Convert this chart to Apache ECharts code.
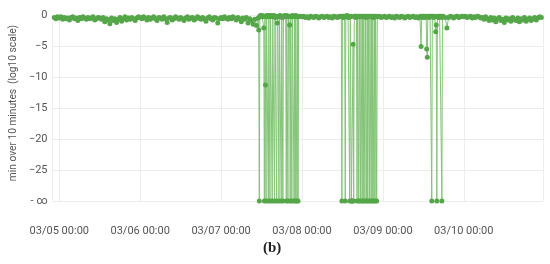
<!DOCTYPE html>
<html>
<head>
<meta charset="utf-8">
<script src="https://cdn.jsdelivr.net/npm/echarts@6/dist/echarts.min.js"></script>
<style>
  html, body { margin: 0; padding: 0; background: #fff; }
  #chart { width: 550px; height: 264px; }
</style>
</head>
<body>
<div id="chart"></div>
<script>
// -inf is drawn on the floor of the axis (-30)
var X = -30;

// quiet stretches, 30 minute samples
var d0304 = [-0.4, -0.6, -0.3];                       // 22:30 - 23:30
var d0305 = [-0.5,-0.3,-0.7,-0.4,-0.6,-0.5,-0.8,-0.4,-0.3,-0.6,-0.5,-0.9,-0.4,-0.6,-0.3,-0.5,-0.7,-0.4,-0.6,-0.5,-0.3,-0.8,-0.6,-0.4,
             -0.5,-0.7,-0.4,-1.1,-0.6,-0.8,-1.4,-0.5,-0.9,-0.6,-1.2,-0.7,-0.4,-1.0,-0.6,-0.3,-0.8,-0.5,-0.7,-0.4,-0.6,-0.9,-0.5,-0.3];
var d0306 = [-0.4,-0.6,-0.3,-0.5,-0.8,-0.4,-0.7,-0.5,-0.3,-0.6,-0.9,-0.4,-0.5,-0.7,-0.3,-0.6,-1.2,-0.5,-0.4,-0.8,-0.6,-0.3,-0.5,-0.7,
             -0.4,-0.6,-0.9,-0.5,-0.3,-0.7,-0.5,-0.4,-0.8,-0.6,-0.3,-0.5,-0.7,-0.4,-0.6,-1.0,-0.5,-0.3,-0.6,-0.8,-0.4,-0.5,-1.3,-0.6];
var d0307am = [-0.4,-0.6,-0.3,-0.5,-0.7,-0.4,-0.6,-0.3,-0.5,-0.8,-0.4,-0.6,-1.1,-0.5,-0.7,-0.4,-1.3,-0.6,-0.9,-1.5,-0.7,-1.7]; // 00:00 - 10:30
var d0307pm = [-0.3, -0.2];                           // 23:00 - 23:30
var d0308am = [-0.3,-0.2,-0.4,-0.3,-0.5,-0.2,-0.3,-0.4,-0.2,-0.3,-0.5,-0.3,-0.2,-0.4,-0.3,-0.2,-0.4,-0.3,-0.5,-0.2,-0.3,-0.4,-0.2]; // 00:00 - 11:00
var d0308pm = [-0.3, -0.2, -0.4];                     // 22:30 - 23:30
var d0309am = [-0.3,-0.2,-0.4,-0.3,-0.2,-0.4,-0.3,-0.5,-0.2,-0.3,-0.4,-0.2,-0.3,-0.5,-0.3,-0.2,-0.4,-0.3,-0.2,-0.4,-0.3,-0.5]; // 00:00 - 10:30
var d0309pm = [-0.3,-0.4,-2.1,-0.4,-0.2,-0.3,-0.5,-0.3,-0.2,-0.4,-0.3,-0.2];  // 18:00 - 23:30
var d0310 = [-0.3,-0.2,-0.4,-0.3,-0.2,-0.5,-0.3,-0.4,-0.2,-0.3,-0.5,-0.4,-0.7,-0.3,-0.6,-0.9,-0.4,-0.8,-0.5,-1.1,-0.6,-0.4,-0.9,-0.7,
             -1.2,-0.5,-0.8,-0.6,-1.0,-0.4,-0.7,-0.9,-0.5,-1.1,-0.6,-0.8,-0.4,-1.0,-0.7,-0.5,-0.9,-0.6,-0.4,-0.8,-0.5,-0.3,-0.4];

// dropout periods, 10 minute samples
var c0307 = [-0.5,-2.4,X,-0.2,-0.1,-0.3,-0.2,-0.1,-0.3,-0.2,-2.1,X,-0.2,-11.3,X,-0.1,-0.3,-0.2,X,-0.1,-0.2,X,-0.3,-0.1,
             -0.2,X,-0.2,-0.3,-0.1,X,-0.2,-0.4,-0.2,X,-1.3,-0.2,-0.3,X,-0.2,-0.1,-0.3,X,-0.2,-0.4,X,-0.2,-0.3,-0.1,
             -0.2,-0.3,X,-0.1,-0.2,X,-0.3,-0.2,-1.6,X,-0.2,-0.3,X,-0.1,-0.2,-0.3,X,-0.2,X,-0.1,-0.3,X,-0.2,X];   // 11:00 - 22:50
var c0308 = [-0.3,-0.2,X,-0.3,-0.2,-0.4,-0.2,-0.3,X,-0.2,-0.3,-0.1,-0.3,-0.2,-0.4,-0.2,X,-0.3,-0.2,X,X,X,-4.7,X,
             -0.2,-0.3,-0.2,-0.4,-0.2,X,-0.3,-0.2,X,-0.3,-0.2,X,-0.3,-0.2,X,-0.3,X,-0.2,-0.3,X,-0.2,-0.4,X,-0.2,
             X,-0.3,-0.2,X,-0.3,-0.2,X,-0.3,X,-0.2,-0.4,X,-0.2,X,-0.3,-0.2,X,-0.3];                            // 11:30 - 22:20
var c0309 = [-0.3,-0.2,-5.1,-0.3,-0.2,-0.4,-0.3,-0.2,-0.3,-0.4,-0.2,-0.3,-5.5,-6.8,-0.3,-0.2,-0.4,-0.3,-0.2,-0.3,-0.2,X,
             -0.3,-0.2,-0.4,-0.3,-0.2,-0.3,-2.7,-1.6,X,-0.3,-0.2,-0.4,-0.3,-0.2,-0.3,-0.2,-0.4,X,-0.3,-0.2];    // 11:00 - 17:50

var MIN = 60 * 1000;
function t(day, h, m) { return new Date(2021, 2, day, h, m).getTime(); }

var segments = [
  { start: t(4, 22, 30), step: 30, values: [].concat(d0304, d0305, d0306, d0307am) },
  { start: t(7, 11, 0),  step: 10, values: c0307 },
  { start: t(7, 23, 0),  step: 30, values: [].concat(d0307pm, d0308am) },
  { start: t(8, 11, 30), step: 10, values: c0308 },
  { start: t(8, 22, 30), step: 30, values: [].concat(d0308pm, d0309am) },
  { start: t(9, 11, 0),  step: 10, values: c0309 },
  { start: t(9, 18, 0),  step: 30, values: [].concat(d0309pm, d0310) }
];

var data = [];
segments.forEach(function (s) {
  s.values.forEach(function (v, i) { data.push([s.start + i * s.step * MIN, v]); });
});

function pad(n) { return (n < 10 ? '0' : '') + n; }

var chart = echarts.init(document.getElementById('chart'));
chart.setOption({
  backgroundColor: '#fff',
  animation: false,
  textStyle: { fontFamily: 'Roboto' },
  grid: { left: 52, right: 7, top: 15, bottom: 63 },
  xAxis: {
    type: 'time',
    min: t(4, 22, 0),
    max: t(10, 23, 30),
    minInterval: 24 * 3600 * 1000,
    maxInterval: 24 * 3600 * 1000,
    axisLine: { show: false },
    axisTick: { show: false },
    splitLine: { show: true, lineStyle: { color: '#ededed', width: 1 } },
    axisLabel: {
      color: '#555',
      fontSize: 11,
      margin: 25,
      showMinLabel: false,
      showMaxLabel: false,
      formatter: function (v) {
        var d = new Date(v);
        return pad(d.getMonth() + 1) + '/' + pad(d.getDate()) + ' ' + pad(d.getHours()) + ':' + pad(d.getMinutes());
      }
    }
  },
  yAxis: {
    type: 'value',
    min: X,
    max: 0,
    interval: 5,
    name: 'min over 10 minutes  (log10 scale)',
    nameLocation: 'middle',
    nameGap: 34,
    nameTextStyle: { color: '#555', fontSize: 10.2, padding: [0, 0, 0, 10] },
    axisLine: { show: false },
    axisTick: { show: false },
    splitLine: { lineStyle: { color: '#ededed', width: 1 } },
    axisLabel: {
      color: '#555',
      fontSize: 11,
      margin: 5,
      formatter: function (v) {
        if (v === X) return '- \u221e';
        return v < 0 ? '\u2212' + Math.abs(v) : String(v);
      }
    }
  },
  series: [{
    type: 'line',
    data: data,
    symbol: 'circle',
    symbolSize: 5,
    showSymbol: true,
    itemStyle: { color: '#55a649' },
    lineStyle: { color: '#83c477', width: 1 }
  }],
  graphic: [{
    type: 'text',
    left: 263,
    top: 241,
    style: {
      text: '(b)',
      font: 'bold 15px "Liberation Serif"',
      fill: '#222'
    }
  }]
});
</script>
</body>
</html>
